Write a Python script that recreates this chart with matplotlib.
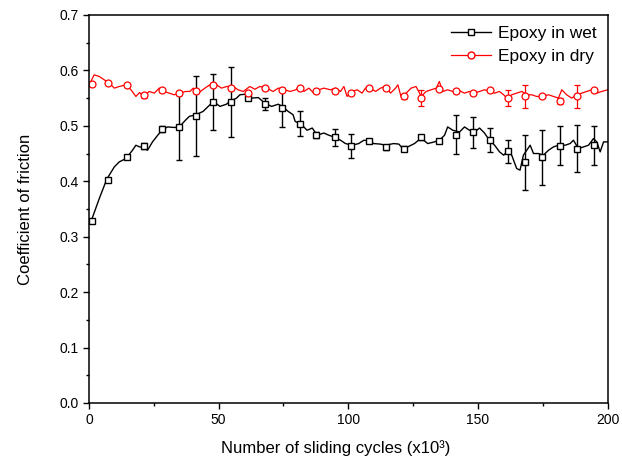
import numpy as np
import matplotlib
matplotlib.use("Agg")
import matplotlib.pyplot as plt
from matplotlib.lines import Line2D
from matplotlib.ticker import MultipleLocator, FormatStrFormatter

plt.rcParams['font.family'] = ['Liberation Sans', 'DejaVu Sans']

# continuous friction traces
wet_x = [0, 1, 4, 6.9, 9.8, 11.7, 14.3, 16.8, 18.1, 19.5, 21.3, 22.6, 24.5, 26.5,
         28.1, 30.3, 32.9, 34.8, 37.4, 38.7, 41.2, 44, 46, 48, 50.5, 53, 54.3,
         56.9, 58.2, 60.1, 62.7, 65.3, 67.8, 70.4, 73, 74.6, 76.8, 78.7, 79.5,
         81.8, 84.1, 86.1, 88, 90.6, 92.5, 94.4, 97, 98.9, 101.5, 104, 106, 107.9,
         109.8, 112.4, 114.3, 117.5, 119.5, 121, 122.9, 125.5, 128.1, 130.6, 133.2,
         135.1, 137.1, 138.3, 140.3, 142.9, 144.8, 146.7, 148.7, 150.6, 152.5,
         154.4, 156.4, 158.3, 159.9, 161.1, 163, 164.9, 166.2, 167.5, 168.8, 170.1,
         171.4, 173.3, 175.2, 177.2, 179.1, 181, 183.6, 185.5, 186.8, 188.7, 190.7,
         192.6, 194.5, 195.8, 197.1, 198.4, 200]
wet_y = [0.325, 0.33, 0.369, 0.404, 0.426, 0.435, 0.441, 0.456, 0.465, 0.462, 0.461,
         0.456, 0.471, 0.483, 0.492, 0.498, 0.497, 0.498, 0.511, 0.517, 0.52, 0.526,
         0.535, 0.544, 0.535, 0.539, 0.544, 0.55, 0.556, 0.557, 0.55, 0.551, 0.541,
         0.535, 0.539, 0.535, 0.526, 0.52, 0.508, 0.503, 0.492, 0.496, 0.483, 0.487,
         0.483, 0.48, 0.474, 0.468, 0.465, 0.468, 0.474, 0.473, 0.468, 0.467, 0.465,
         0.468, 0.467, 0.459, 0.462, 0.468, 0.478, 0.468, 0.471, 0.474, 0.483, 0.498,
         0.492, 0.489, 0.498, 0.492, 0.489, 0.496, 0.487, 0.474, 0.465, 0.453, 0.447,
         0.453, 0.447, 0.423, 0.42, 0.447, 0.456, 0.465, 0.45, 0.45, 0.447, 0.456,
         0.462, 0.465, 0.465, 0.468, 0.474, 0.459, 0.462, 0.465, 0.477, 0.471, 0.453,
         0.471, 0.471]

dry_x = [0.1, 2, 4, 5.9, 7.8, 9.8, 11.7, 14.3, 16.2, 18.1, 19.5, 21.3, 23.2, 25.2,
         27.1, 29, 30.9, 32.9, 34.8, 37.4, 38.9, 40.2, 42.1, 44.7, 46.6, 49.2, 51.1,
         53.1, 55.6, 57.5, 59.5, 62, 64, 65.9, 68.5, 71, 73, 75.5, 77.5, 79.8, 80.9,
         82.9, 84.8, 86.7, 88.6, 90.6, 93.1, 95.1, 97, 98.3, 99.5, 101.5, 103.4,
         105.3, 106.6, 108.6, 110.5, 112.4, 114.3, 116.3, 118.2, 119.1, 120.3, 122.3,
         124.2, 126.1, 128.1, 130, 131.9, 133.9, 135.1, 136.4, 138.3, 140.3, 142.2,
         144.8, 146.7, 148.7, 150.6, 152.5, 154.4, 156.4, 158.3, 159.9, 161.1, 163,
         164.9, 166.9, 168.8, 170.7, 172.6, 174.6, 177.2, 179.1, 181, 182.3, 184.2,
         186.1, 188.1, 190, 191.9, 193.9, 195.8, 197.7, 200]
dry_y = [0.574, 0.592, 0.589, 0.583, 0.577, 0.568, 0.571, 0.574, 0.565, 0.553, 0.56,
         0.553, 0.562, 0.559, 0.568, 0.562, 0.559, 0.556, 0.559, 0.562, 0.562, 0.568,
         0.559, 0.568, 0.574, 0.574, 0.568, 0.571, 0.571, 0.565, 0.562, 0.571, 0.566,
         0.571, 0.568, 0.562, 0.568, 0.565, 0.562, 0.565, 0.571, 0.562, 0.568, 0.559,
         0.565, 0.568, 0.565, 0.568, 0.562, 0.571, 0.553, 0.562, 0.565, 0.559, 0.568,
         0.568, 0.562, 0.568, 0.571, 0.559, 0.568, 0.574, 0.553, 0.559, 0.568, 0.571,
         0.553, 0.562, 0.565, 0.568, 0.58, 0.562, 0.565, 0.562, 0.565, 0.559, 0.562,
         0.559, 0.562, 0.565, 0.562, 0.559, 0.562, 0.556, 0.55, 0.556, 0.559, 0.562,
         0.556, 0.556, 0.553, 0.553, 0.556, 0.553, 0.55, 0.565, 0.556, 0.55, 0.556,
         0.559, 0.562, 0.565, 0.559, 0.562, 0.565]

# averaged points with error bars
wet_mx = [1.0, 7.4, 14.5, 21.3, 28.0, 34.6, 41.2, 47.9, 54.6, 61.4, 67.9, 74.5,
          81.2, 87.7, 94.7, 101.2, 108.0, 114.6, 121.3, 128.0, 134.8, 141.4, 148.1,
          154.8, 161.6, 168.2, 174.7, 181.5, 188.2, 194.7]
wet_my = [0.329, 0.402, 0.444, 0.464, 0.494, 0.497, 0.518, 0.543, 0.543, 0.551,
          0.539, 0.533, 0.504, 0.483, 0.479, 0.464, 0.473, 0.461, 0.459, 0.479,
          0.473, 0.484, 0.488, 0.474, 0.454, 0.434, 0.443, 0.464, 0.459, 0.465]
wet_err = [0.003, 0.004, 0.004, 0.005, 0.005, 0.059, 0.072, 0.050, 0.064, 0.004,
           0.011, 0.035, 0.022, 0.005, 0.015, 0.022, 0.004, 0.004, 0.004, 0.004,
           0.004, 0.035, 0.028, 0.022, 0.021, 0.049, 0.049, 0.035, 0.042, 0.035]

dry_mx = wet_mx
dry_my = [0.575, 0.578, 0.574, 0.555, 0.564, 0.559, 0.563, 0.574, 0.569, 0.560,
          0.568, 0.565, 0.569, 0.563, 0.562, 0.559, 0.569, 0.568, 0.553, 0.550,
          0.566, 0.563, 0.559, 0.564, 0.550, 0.553, 0.553, 0.545, 0.553, 0.564]
dry_err = [0.003, 0.003, 0.004, 0.004, 0.003, 0.003, 0.003, 0.003, 0.003, 0.003,
           0.003, 0.003, 0.003, 0.003, 0.003, 0.003, 0.003, 0.003, 0.005, 0.015,
           0.003, 0.003, 0.003, 0.003, 0.015, 0.021, 0.003, 0.005, 0.021, 0.003]

fig = plt.figure(figsize=(6.22, 4.68), dpi=100)
ax = fig.add_axes([0.143, 0.139, 0.834, 0.829])

ax.plot(wet_x, wet_y, color='black', lw=1.0)
ax.errorbar(wet_mx, wet_my, yerr=wet_err, fmt='s', color='black', mfc='white',
            mec='black', ms=4.5, mew=1.0, elinewidth=1.0, capsize=2.2, capthick=1.0)
ax.plot(dry_x, dry_y, color='red', lw=0.9)
ax.errorbar(dry_mx, dry_my, yerr=dry_err, fmt='o', color='red', mfc='white',
            mec='red', ms=5, mew=0.9, elinewidth=0.9, capsize=2.2, capthick=0.9)

ax.set_xlim(0, 200)
ax.set_ylim(0.0, 0.7)
ax.xaxis.set_major_locator(MultipleLocator(50))
ax.xaxis.set_minor_locator(MultipleLocator(25))
ax.yaxis.set_major_locator(MultipleLocator(0.1))
ax.yaxis.set_minor_locator(MultipleLocator(0.05))
ax.yaxis.set_major_formatter(FormatStrFormatter('%.1f'))
ax.tick_params(which='both', direction='out', labelsize=10, width=1.0)
ax.tick_params(which='major', length=4)
ax.tick_params(which='minor', length=2.5)
for s in ax.spines.values():
    s.set_linewidth(1.1)

ax.set_xlabel('Number of sliding cycles (x10³)', fontsize=12, labelpad=8)
ax.xaxis.set_label_coords(0.475, -0.095)
ax.set_ylabel('Coefficient of friction', fontsize=12, labelpad=19)

handles = [Line2D([], [], color='black', marker='s', mfc='white', ms=4.5, lw=1.0),
           Line2D([], [], color='red', marker='o', mfc='white', ms=5, lw=0.9)]
ax.legend(handles, ['Epoxy in wet', 'Epoxy in dry'], loc='upper right', frameon=False,
          fontsize=12.5, handlelength=2.3, borderaxespad=0.25, labelspacing=0.45,
          handletextpad=0.4)

fig.savefig('out.png', dpi=100)
